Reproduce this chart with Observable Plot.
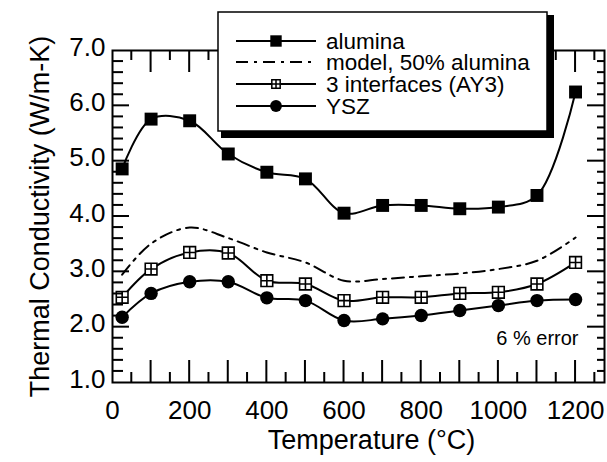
<!DOCTYPE html>
<html><head><meta charset="utf-8">
<script src="https://cdn.jsdelivr.net/npm/d3@7"></script>
<script src="https://cdn.jsdelivr.net/npm/@observablehq/plot@0.6"></script>
<style>
body{margin:0;background:#fff;color:#000;}
#chart{width:607px;height:462px;position:relative;}
#chart svg{position:absolute;left:0;top:0;}
svg text{font-family:"Liberation Sans",Arial,Helvetica,sans-serif;}
</style></head><body><div id="chart"></div>
<script>
const temperatures = [25,100,200,300,400,500,600,700,800,900,1000,1100,1200];
const alumina = [4.86,5.76,5.73,5.13,4.80,4.68,4.06,4.20,4.20,4.14,4.17,4.38,6.25];
const model50 = [2.95,3.51,3.80,3.61,3.35,3.17,2.84,2.87,2.92,2.97,3.05,3.20,3.62];
const ay3 = [2.54,3.05,3.35,3.34,2.84,2.78,2.48,2.54,2.54,2.61,2.63,2.78,3.17];
const ysz = [2.18,2.61,2.82,2.82,2.53,2.48,2.12,2.15,2.21,2.30,2.39,2.48,2.50];
const seriesNames = ["alumina","model, 50% alumina","3 interfaces (AY3)","YSZ"];
const xTickLabels = [0,200,400,600,800,1000,1200];
const yTickLabels = [1,2,3,4,5,6,7];
const annotation = "6 % error";
const xTitle = "Temperature (°C)";
const yTitle = "Thermal Conductivity (W/m-K)";

const W = 607, H = 462, mL = 112, mR = 3, mT = 50, mB = 80;

const xMajor = d3.range(100, 1201, 100);
const xMinor = d3.range(50, 1251, 100);
const yMajor = [2, 3, 4, 5, 6];
const yMinor = d3.range(1.2, 7, 0.2).filter(v => Math.abs(v - Math.round(v)) > 0.05);

const rows = (vals) => temperatures.map((t, i) => ({t, v: vals[i]}));
const dAl = rows(alumina), dMo = rows(model50), dAy = rows(ay3), dYs = rows(ysz);

const boxPlus = {draw(ctx, size) {
  const s = Math.sqrt(size) / 2;
  ctx.moveTo(-s, -s); ctx.lineTo(s, -s); ctx.lineTo(s, s); ctx.lineTo(-s, s); ctx.closePath();
  ctx.moveTo(0, -s); ctx.lineTo(0, s); ctx.moveTo(-s, 0); ctx.lineTo(s, 0);
}};

const svg = Plot.plot({
  width: W, height: H,
  marginLeft: mL, marginRight: mR, marginTop: mT, marginBottom: mB,
  x: {domain: [0, 1275]},
  y: {domain: [1, 7]},
  marks: [
    Plot.frame({stroke: "black", strokeWidth: 2, fill: "none"}),
    Plot.axisX(xTickLabels, {anchor: "bottom", tickSize: 0, tickPadding: 18, fontSize: 26, fill: "black", tickFormat: d => String(d), label: null}),
    Plot.axisY(yTickLabels, {anchor: "left", tickSize: 0, tickPadding: 7, fontSize: 26, fill: "black", dy: -3, tickFormat: d => d.toFixed(1), label: null}),
    Plot.text([xTitle], {frameAnchor: "bottom", dy: 58, dx: 13, fontSize: 27, fill: "black", lineAnchor: "middle", text: d => d}),
    Plot.text([yTitle], {frameAnchor: "left", dx: -72, rotate: -90, fontSize: 27, fill: "black", textAnchor: "middle", lineAnchor: "middle", text: d => d}),
    Plot.text([annotation], {frameAnchor: "bottom-right", dx: -26, dy: -44, fontSize: 20, fill: "black", textAnchor: "end", lineAnchor: "middle", text: d => d}),
    Plot.line(dMo, {x: "t", y: "v", curve: "catmull-rom", stroke: "black", strokeWidth: 2, strokeDasharray: "12,6,3,6"}),
    Plot.line(dAl, {x: "t", y: "v", curve: "catmull-rom", stroke: "black", strokeWidth: 2}),
    Plot.line(dAy, {x: "t", y: "v", curve: "catmull-rom", stroke: "black", strokeWidth: 2}),
    Plot.line(dYs, {x: "t", y: "v", curve: "catmull-rom", stroke: "black", strokeWidth: 2}),
    Plot.dot(dAl, {x: "t", y: "v", symbol: "square", r: 7.3, fill: "black", stroke: "none"}),
    Plot.dot(dAy, {x: "t", y: "v", symbol: boxPlus, r: 6.6, fill: "white", stroke: "black", strokeWidth: 1.6}),
    Plot.dot(dYs, {x: "t", y: "v", symbol: "circle", r: 6.7, fill: "black", stroke: "none"})
  ]
});
const chart = document.getElementById("chart");
chart.appendChild(svg);

// overlay svg: inward ticks (as filled bars, placed with Plot's own scales) and the legend
const sx = svg.scale("x"), sy = svg.scale("y");
const X = v => sx.apply(v), Y = v => sy.apply(v);
const fx0 = mL, fx1 = W - mR, fy0 = mT, fy1 = H - mB;
const ov = d3.select(chart).append("svg").attr("width", W).attr("height", H)
  .attr("viewBox", `0 0 ${W} ${H}`).style("pointer-events", "none");
const tg = ov.append("g").attr("fill", "black");
const bar = (x, y, w, h) => tg.append("rect").attr("x", x).attr("y", y).attr("width", w).attr("height", h).attr("fill", "black");
xMajor.forEach(v => { bar(X(v) - 1, fy1 - 22, 2, 22); bar(X(v) - 1, fy0, 2, 22); });
xMinor.forEach(v => { bar(X(v) - 1, fy1 - 10, 2, 10); bar(X(v) - 1, fy0, 2, 10); });
yMajor.forEach(v => { bar(fx0, Y(v) - 1, 17, 2); bar(fx1 - 17, Y(v) - 1, 17, 2); });
yMinor.forEach(v => { bar(fx0, Y(v) - 1, 11, 2); bar(fx1 - 7, Y(v) - 1, 7, 2); });

const lg = ov.append("g");
lg.append("rect").attr("x", 221).attr("y", 15).attr("width", 333).attr("height", 123).attr("fill", "black");
lg.append("rect").attr("x", 218).attr("y", 12).attr("width", 329).attr("height", 119).attr("fill", "white").attr("stroke", "black").attr("stroke-width", 1.5);
const rowY = [41, 62, 84, 106];
const symbols = [d3.symbolSquare, null, boxPlus, d3.symbolCircle];
const symSize = [130, 0, 70, 110];
seriesNames.forEach((name, i) => {
  const y = rowY[i];
  const line = lg.append("line").attr("x1", 236).attr("x2", 316).attr("y1", y).attr("y2", y)
    .attr("stroke", "black").attr("stroke-width", 2);
  if (i === 1) line.attr("stroke-dasharray", "12,6,3,6");
  if (symbols[i]) {
    const isBox = symbols[i] === boxPlus;
    lg.append("path").attr("d", d3.symbol(symbols[i], symSize[i])()).attr("transform", `translate(276,${y})`)
      .attr("fill", isBox ? "white" : "black").attr("stroke", isBox ? "black" : "none").attr("stroke-width", 1.5);
  }
  lg.append("text").attr("x", 326).attr("y", y).attr("dy", "0.35em")
    .style("font-size", "22.5px").style("text-anchor", "start")
    .attr("fill", "black").text(name);
});
</script></body></html>
